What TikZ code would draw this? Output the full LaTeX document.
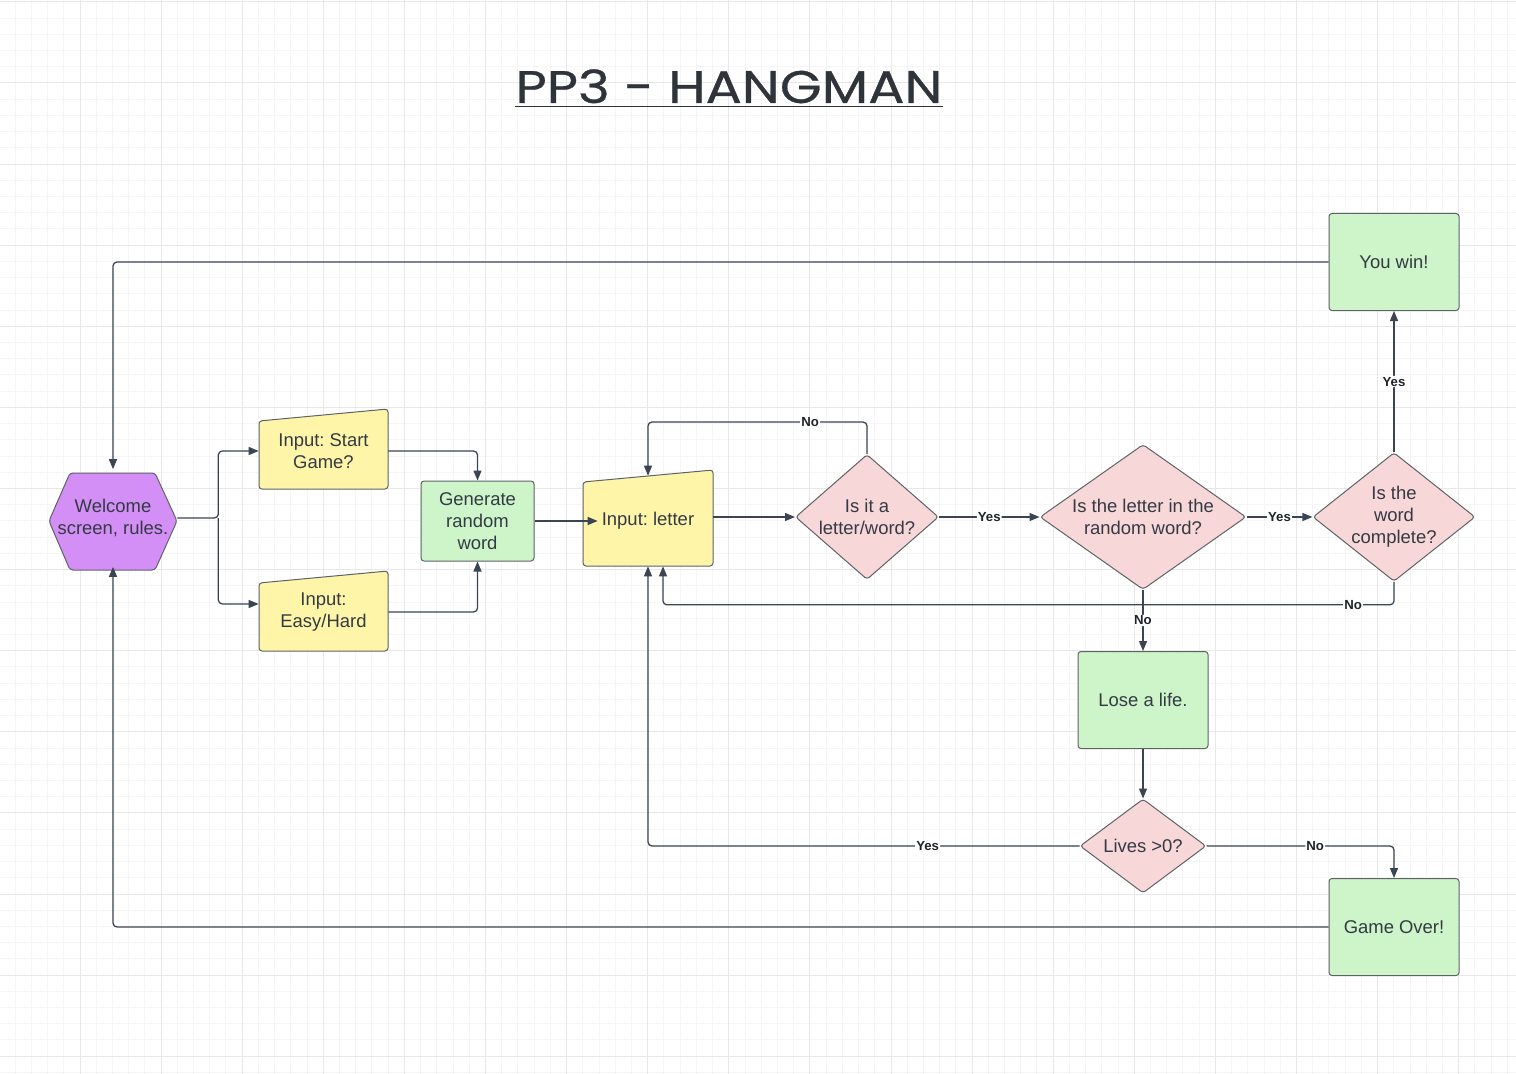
\documentclass[tikz,border=0pt]{standalone}
\usepackage{fontspec}
\setmainfont{Liberation Sans}
\newfontfamily\titlefont[FakeStretch=1.18, FakeBold=0.6]{Poppins}
\usetikzlibrary{shapes.geometric, arrows.meta}
\frenchspacing

\definecolor{purplefill}{HTML}{D48FF7}
\definecolor{yellowfill}{HTML}{FFF5A9}
\definecolor{greenfill}{HTML}{CDF5C9}
\definecolor{pinkfill}{HTML}{F8D7D8}
\definecolor{edgecol}{HTML}{5F6368}
\definecolor{textcol}{HTML}{333A44}
\definecolor{linecol}{HTML}{3A4452}
\definecolor{titlecol}{HTML}{2F343B}
\definecolor{tagcol}{HTML}{1F2328}
\definecolor{gridminor}{HTML}{F5F5F5}
\definecolor{gridmajor}{HTML}{E8E8E8}

\newcommand{\boxfont}{\fontsize{10.5}{12.5}\selectfont}
\newcommand{\tagfont}{\fontsize{7.5}{8}\selectfont\bfseries}

\tikzset{
>={Triangle[length=2mm, width=1.6mm]}, % filled arrow heads
flow/.style={->, draw=linecol, line width=0.25mm, rounded corners=0.8mm}, % connectors
outline/.style={draw=edgecol, line width=0.2mm, rounded corners=0.6mm}, % border of every shape
textonly/.style={text=textcol, font=\boxfont, align=center, inner sep=0pt},
process/.style={outline, textonly, fill=greenfill, minimum width=26mm, minimum height=19.4mm},
decision/.style={outline, textonly, diamond, fill=pinkfill},
tag/.style={fill=white, inner sep=0.6pt, font=\tagfont, text=tagcol}, % Yes / No
minorgrid/.style={draw=gridminor, line width=0.2mm},
majorgrid/.style={draw=gridmajor, line width=0.2mm},
}

\begin{document}
\begin{tikzpicture}[x=0.2mm, y=-0.2mm]
\useasboundingbox (0,0) rectangle (1516,1074);
\fill[white] (0,0) rectangle (1516,1074);

% background grid
\foreach \k in {0,...,93}
    \draw[minorgrid] ({-1.1+16.22*\k},0) -- ({-1.1+16.22*\k},1074);
\foreach \k in {0,...,66}
    \draw[minorgrid] (0,{1.9+16.22*\k}) -- (1516,{1.9+16.22*\k});
\foreach \k in {0,...,18}
    \draw[majorgrid] ({-1.1+81.1*\k},0) -- ({-1.1+81.1*\k},1074);
\foreach \k in {0,...,13}
    \draw[majorgrid] (0,{1.9+81.1*\k}) -- (1516,{1.9+81.1*\k});

% title
\node[font=\titlefont\fontsize{26}{30}\selectfont, text=titlecol, inner sep=0pt, anchor=base] (title) at (729,103) {PP3 - HANGMAN};
\draw[titlecol, line width=0.35mm] ([yshift=-0.7mm]title.base west) -- ([yshift=-0.7mm]title.base east);

% hexagon and manual input shapes
\draw[outline, fill=purplefill] (49,521) -- (70,473) -- (155,473) -- (177,521) -- (155,570) -- (70,570) -- cycle;
\draw[outline, fill=yellowfill] (259,421) -- (388,409) -- (388,489) -- (259,489) -- cycle;
\draw[outline, fill=yellowfill] (259,583) -- (388,571) -- (388,651) -- (259,651) -- cycle;
\draw[outline, fill=yellowfill] (583,482) -- (713,470) -- (713,566) -- (583,566) -- cycle;

\node[textonly, minimum width=25.6mm, minimum height=19.4mm] (welcome) at (113,518) {Welcome\\screen, rules.};
\node[textonly, minimum width=25.8mm, minimum height=13.6mm] (start) at (323.5,451) {Input: Start\\Game?};
\node[textonly, minimum width=25.8mm, minimum height=13.6mm] (easy) at (323.5,612) {Input:\\Easy/Hard};
\node[process, minimum width=22.6mm, minimum height=16mm] (gen) at (477.5,521) {Generate\\random\\word};
\node[textonly, minimum width=26mm, minimum height=18mm] (letter) at (648,521) {Input: letter};

\node[decision, minimum width=28.6mm, minimum height=25mm, aspect=1.14] (check) at (867,517) {Is it a\\letter/word?};
\node[decision, minimum width=41.2mm, minimum height=29mm, aspect=1.42] (inword) at (1143,517) {Is the letter in the\\random word?};
\node[decision, minimum width=31.6mm, minimum height=25mm, aspect=1.26] (complete) at (1394,517) {Is the\\word\\complete?};
\node[process] (win) at (1394,262) {You win!};
\node[process] (lose) at (1143,700) {Lose a life.};
\node[decision, minimum width=25.2mm, minimum height=18.8mm, aspect=1.34] (lives) at (1143,846) {Lives >0?};
\node[process] (over) at (1394,927) {Game Over!};

% connectors
\draw[flow] (win.west) -| (welcome.north);
\draw[flow] (over.west) -| (welcome.south);
\draw[flow] (welcome.east) -- ++(41,0) coordinate (split) |- (start.west);
\draw[flow] (split) |- ([yshift=1.6mm]easy.west);
\draw[flow] (start.east) -| (gen.north);
\draw[flow] (easy.east) -| (gen.south);
\draw[flow] (gen.east) -- ([xshift=3mm]letter.west);
\draw[flow] (letter.east |- check.west) -- (check.west);
\draw[flow] (check.north) -- ++(0,-32) -| (letter.north) node[tag, pos=0.13] {No};
\draw[flow] (check.east) -- (inword.west) node[tag, midway] {Yes};
\draw[flow] (inword.east) -- (complete.west) node[tag, midway] {Yes};
\draw[flow] (complete.north) -- (win.south) node[tag, midway] {Yes};
\draw[flow] (complete.south) -- ++(0,23) -| ([xshift=3mm]letter.south) node[tag, pos=0.028] {No};
\draw[flow] (inword.south) -- (lose.north) node[tag, midway] {No};
\draw[flow] (lose.south) -- (lives.north);
\draw[flow] (lives.west) -| (letter.south) node[tag, pos=0.176] {Yes};
\draw[flow] (lives.east) -| (over.north) node[tag, pos=0.29] {No};
\end{tikzpicture}
\end{document}
